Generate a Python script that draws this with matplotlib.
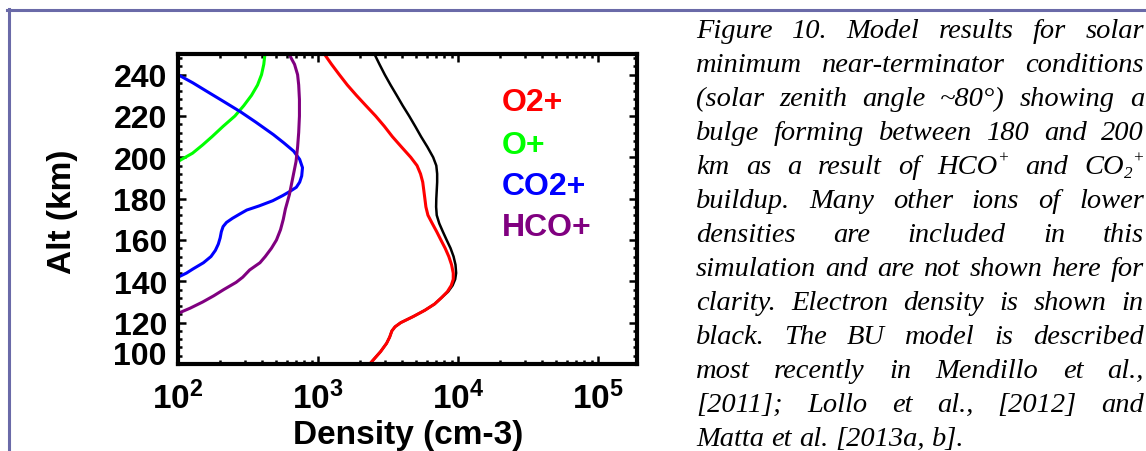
import numpy as np
import matplotlib
matplotlib.use('Agg')
import matplotlib.pyplot as plt
from matplotlib.lines import Line2D
from matplotlib.ticker import MultipleLocator, LogLocator

# altitude (km) vs density (cm-3)
elec_alt = [250, 245, 240, 235, 230, 225, 220, 215, 210, 205, 200, 196, 192, 188, 184, 180,
            176, 172, 168, 164, 160, 156, 152, 148, 144, 141, 138, 135, 132, 129, 126, 123,
            120, 118, 116, 113, 110, 106, 103, 100]
elec_den = [2530, 2750, 3000, 3300, 3650, 4030, 4480, 4950, 5450, 6050, 6650, 7000, 7100, 7100,
            7050, 7000, 6980, 7050, 7350, 7800, 8300, 8850, 9300, 9600, 9700, 9550, 9150, 8500,
            7600, 6800, 5800, 4800, 3900, 3550, 3370, 3250, 3090, 2800, 2560, 2340]

o2p_alt = [250, 245, 240, 235, 230, 225, 220, 215, 210, 205, 200, 196, 192, 188, 184, 180,
           176, 172, 168, 164, 160, 156, 152, 148, 144, 141, 138, 135, 132, 129, 126, 123,
           120, 118, 116, 113, 110, 106, 103, 100]
o2p_den = [1110, 1250, 1420, 1620, 1880, 2200, 2580, 2980, 3400, 3950, 4600, 5100, 5400, 5600,
           5700, 5800, 5900, 6100, 6550, 7050, 7550, 8100, 8600, 9000, 9250, 9250, 8950, 8400,
           7600, 6800, 5800, 4800, 3900, 3550, 3370, 3250, 3090, 2800, 2560, 2340]

op_alt = [198, 202, 206, 210, 215, 220, 225, 230, 235, 240, 245, 250]
op_den = [100, 127, 150, 175, 210, 255, 295, 335, 370, 395, 410, 418]

co2p_alt = [240, 236, 232, 227, 222, 217, 211, 207, 203, 199, 195, 191, 188, 185.5, 183.5,
            181.5, 179, 176.5, 174.5, 172.5, 170.5, 168.5, 166.5, 164, 161, 158, 155, 152,
            149, 146, 144, 142]
co2p_den = [100, 128, 160, 212, 280, 360, 480, 570, 670, 740, 775, 765, 740, 700, 630,
            560, 475, 380, 310, 275, 245, 222, 210, 204, 200, 194, 185, 172,
            152, 128, 115, 100]

hcop_alt = [250, 245, 240, 235, 228, 220, 212, 205, 198, 190, 182, 175, 170, 165, 160, 156,
            152, 149, 145.5, 142, 139.5, 136, 133, 130, 127, 124.5]
hcop_den = [620, 680, 715, 728, 737, 737, 728, 715, 697, 660, 625, 585, 565, 540, 505, 465,
            420, 385, 325, 290, 260, 212, 180, 150, 122, 100]

species = ['O2+', 'O+', 'CO2+', 'HCO+']
species_colors = ['#ff0000', '#00ff00', '#0000ff', '#800080']

caption_lines = [
    "Figure 10. Model results for solar",
    "minimum near-terminator conditions",
    "(solar zenith angle ~80°) showing a",
    "bulge forming between 180 and 200",
    "km as a result of HCO^+ and CO_2^+",
    "buildup. Many other ions of lower",
    "densities are included in this",
    "simulation and are not shown here for",
    "clarity. Electron density is shown in",
    "black. The BU model is described",
    "most recently in Mendillo et al.,",
    "[2011]; Lollo et al., [2012] and",
    "Matta et al. [2013a, b].",
]

plt.rcParams['font.family'] = 'Liberation Sans'
plt.rcParams['font.weight'] = 'bold'
plt.rcParams['mathtext.fontset'] = 'custom'
plt.rcParams['mathtext.rm'] = 'Liberation Sans:bold'
plt.rcParams['mathtext.it'] = 'Liberation Sans:bold'
plt.rcParams['mathtext.bf'] = 'Liberation Sans:bold'

W, H = 1146, 452
fig = plt.figure(figsize=(W / 100, H / 100), dpi=100)
fig.patch.set_facecolor('white')

ax = fig.add_axes([178 / W, 1 - 365 / H, (637 - 178) / W, (365 - 55) / H])
ax.plot(elec_den, elec_alt, color='black', lw=1.8)
ax.plot(o2p_den, o2p_alt, color=species_colors[0], lw=2.2)
ax.plot(op_den, op_alt, color=species_colors[1], lw=2.2)
ax.plot(co2p_den, co2p_alt, color=species_colors[2], lw=2.2)
ax.plot(hcop_den, hcop_alt, color=species_colors[3], lw=2.2)

ax.set_xscale('log')
ax.set_xlim(1e2, 1.9e5)
ax.set_ylim(100, 250)
ax.set_yticks(np.arange(100, 241, 20))
ax.yaxis.set_minor_locator(MultipleLocator(4))
ax.xaxis.set_major_locator(LogLocator(base=10))
ax.xaxis.set_minor_locator(LogLocator(base=10, subs=np.arange(2, 10)))
ax.tick_params(which='both', direction='in', top=True, right=True, width=1.8)
ax.tick_params(which='major', length=6)
ax.tick_params(which='minor', length=3)
ax.tick_params(axis='y', labelsize=23, pad=8)
ax.tick_params(axis='x', labelsize=24, pad=12)
for s in ax.spines.values():
    s.set_linewidth(3)

for i, name in enumerate(species):
    ax.text(0.706, [0.845, 0.706, 0.574, 0.442][i], name, transform=ax.transAxes,
            color=species_colors[i], fontsize=23, fontweight='bold', va='center', ha='left')

fig.text(63 / W, 1 - 212 / H, 'Alt (km)', rotation=90, fontsize=24, fontweight='bold',
         ha='center', va='center')
fig.text(408 / W, 1 - 436 / H, 'Density (cm-3)', fontsize=24, fontweight='bold',
         ha='center', va='center')

# page frame
frame_col = '#6a6aa8'
fig.add_artist(Line2D([7 / W, 1], [1 - 10.5 / H, 1 - 10.5 / H], transform=fig.transFigure,
                      color=frame_col, lw=2.2))
fig.add_artist(Line2D([8.5 / W, 8.5 / W], [1 - 9.5 / H, 0], transform=fig.transFigure,
                      color=frame_col, lw=2.2))

fig.canvas.draw()
for tick in ax.yaxis.get_major_ticks():
    if abs(tick.get_loc() - 100) < 1e-6:
        tick.label1.set_verticalalignment('baseline')

# justified italic caption
renderer = fig.canvas.get_renderer()
cap_fs = 20.5
x0, x1 = 696, 1144
base0, step = 38.3, 33.97


def pieces(word):
    if word == 'HCO^+':
        return [('HCO', 'n'), ('+', 'sup')]
    if word == 'CO_2^+':
        return [('CO', 'n'), ('2', 'sub'), ('+', 'sup')]
    return [(word, 'n')]


def make(txt, kind):
    fs = cap_fs if kind == 'n' else cap_fs * 0.6
    t = fig.text(0, 0, txt, fontsize=fs, family='Liberation Serif', style='italic',
                 fontweight='normal', va='baseline', ha='left')
    w = t.get_window_extent(renderer).width
    return t, w


for li, line in enumerate(caption_lines):
    yb = base0 + li * step
    words = []
    for w in line.split(' '):
        parts = [make(p, k) + (k,) for p, k in pieces(w)]
        words.append(parts)
    widths = [sum(p[1] for p in parts) for parts in words]
    if li == len(caption_lines) - 1:
        sp = make(' ', 'n')
        sp[0].remove()
        gap = sp[1]
    else:
        gap = (x1 - x0 - sum(widths)) / (len(words) - 1)
    x = x0
    for parts, wd in zip(words, widths):
        px = x
        for t, w, k in parts:
            dy = {'n': 0, 'sup': -0.42 * cap_fs * 100 / 72, 'sub': 0.15 * cap_fs * 100 / 72}[k]
            t.set_position((px / W, 1 - (yb + dy) / H))
            px += w
        x += wd + gap

fig.savefig('out.png', dpi=100)
